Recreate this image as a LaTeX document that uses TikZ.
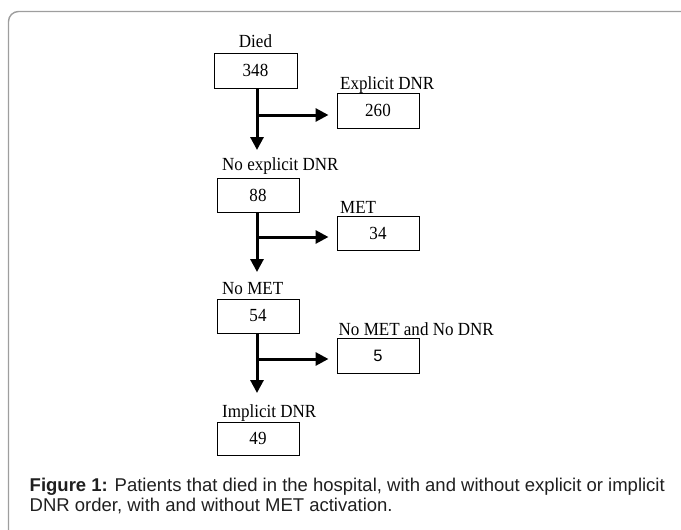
\documentclass[tikz,border=0pt]{standalone}
\usepackage{fontspec}
\setmainfont{Liberation Serif}
\newfontfamily\lblfont[FakeStretch=0.92]{Liberation Serif}
\newfontfamily\capfont{Liberation Sans}
\usetikzlibrary{arrows.meta}
\begin{document}
\begin{tikzpicture}[x=1pt,y=-1pt,
  numbox/.style={draw=black,line width=1pt,minimum width=82pt,minimum height=34pt,inner sep=0pt,font=\lblfont\fontsize{18.5}{21}\selectfont},
  lbl/.style={inner sep=0pt,font=\lblfont\fontsize{18.5}{21}\selectfont},
  flow/.style={line width=3pt,-{Triangle[length=13pt,width=13pt]}},
  captext/.style={inner sep=0pt,anchor=base west,text=black!88,font=\capfont\fontsize{18.5}{20}\selectfont}]
\useasboundingbox (0,0) rectangle (681,530);
% frame
\draw[line width=1.4pt,draw=black!38,rounded corners=10pt] (8.5,11.5) rectangle (720,570);
% boxes
\node[numbox,minimum width=83pt,minimum height=35pt] (b348) at (255.5,70.5) {348};
\node[numbox,minimum height=35pt] (b260) at (378,110.5) {260};
\node[numbox] (b88) at (258,195) {88};
\node[numbox] (b34) at (378,233) {34};
\node[numbox] (b54) at (258,316) {54};
\node[numbox,minimum height=35pt,font=\capfont\fontsize{16.5}{19}\selectfont] (b5) at (378,355.5) {5};
\node[numbox,minimum height=33pt] (b49) at (258,438.5) {49};
% labels
\node[lbl,anchor=base] (lDied) at (255.5,47.5) {Died};
\node[lbl,anchor=base west] (lExp) at (340,89) {Explicit DNR};
\node[lbl,anchor=base west] (lNoExp) at (222,170.5) {No explicit DNR};
\node[lbl,anchor=base west] (lMET) at (340,213) {MET};
\node[lbl,anchor=base west] (lNoMET) at (222,294) {No MET};
\node[lbl,anchor=base west] (lNoBoth) at (338.5,335) {No MET and No DNR};
\node[lbl,anchor=base west] (lImp) at (222,417) {Implicit DNR};
% junctions and arrow ends
\coordinate (t1) at (257,150);
\coordinate (j1) at (257,115);
\coordinate (t2) at (257,272);
\coordinate (j2) at (257,237);
\coordinate (t3) at (257,393);
\coordinate (j3) at (257,359);
% connectors
\draw[flow] (b348.south -| t1) -- (t1);
\draw[flow] (j1) -- ([xshift=-8pt]b260.west |- j1);
\draw[flow] (b88.south -| t2) -- (t2);
\draw[flow] (j2) -- ([xshift=-8pt]b34.west |- j2);
\draw[flow] (b54.south -| t3) -- (t3);
\draw[flow] (j3) -- ([xshift=-8pt]b5.west |- j3);
% caption
\node[captext] (cap1) at (29.5,491.5) {\textbf{Figure 1:} Patients that died in the hospital, with and without explicit or implicit};
\node[captext] (cap2) at (29.5,511.5) {DNR order, with and without MET activation.};
\end{tikzpicture}
\end{document}
